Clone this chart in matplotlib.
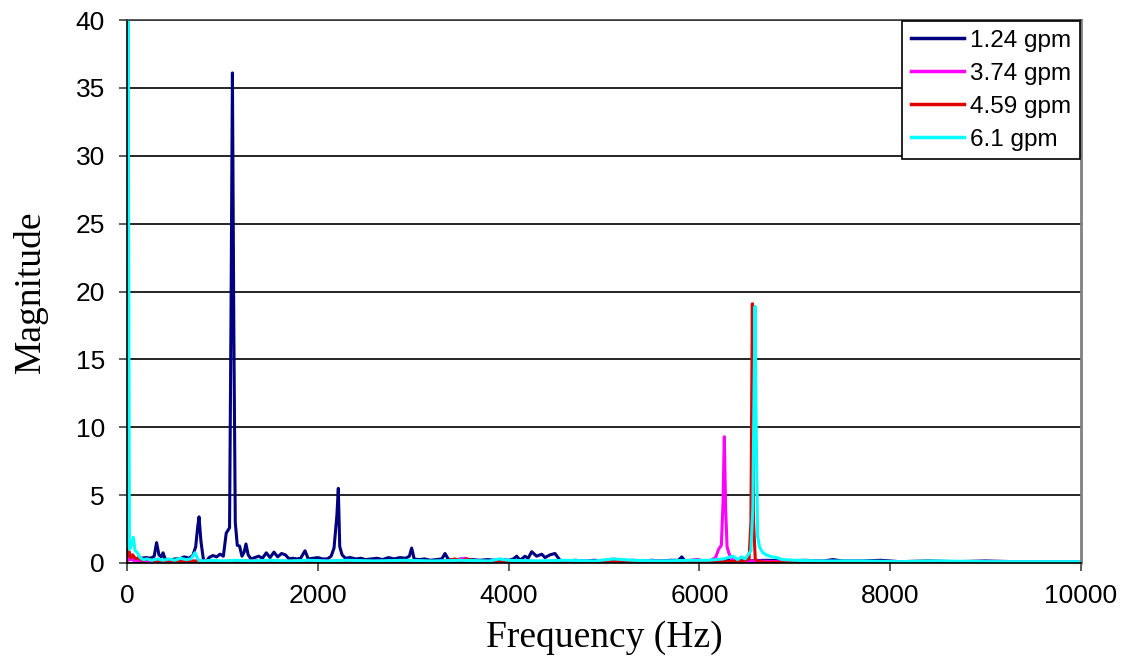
# FFT magnitude spectra for four flow rates

import matplotlib
matplotlib.use("Agg")
import matplotlib.pyplot as plt

# DATA

labels = ["1.24 gpm", "3.74 gpm", "4.59 gpm", "6.1 gpm"]
colors = ["#000080", "#FF00FF", "#E00000", "#00FFFF"]

f124 = [0, 20, 50, 100, 150, 200, 250, 285, 310, 335, 360, 378, 400, 450, 500, 550, 600, 650, 690, 720,
        740, 755, 775, 800, 825, 860, 900, 940, 975, 1010, 1040, 1075, 1090, 1105, 1120, 1135, 1156, 1180,
        1205, 1228, 1247, 1270, 1300, 1340, 1380, 1420, 1460, 1500, 1540, 1580, 1620, 1660, 1700, 1740,
        1780, 1820, 1866, 1900, 1950, 2000, 2050, 2100, 2140, 2170, 2200, 2215, 2230, 2255, 2290, 2340,
        2400, 2450, 2500, 2560, 2620, 2680, 2740, 2800, 2860, 2920, 2960, 2984, 3010, 3060, 3120, 3180,
        3240, 3300, 3333, 3370, 3430, 3500, 3560, 3620, 3700, 3780, 3860, 3940, 4000, 4050, 4085, 4120,
        4172, 4205, 4242, 4294, 4347, 4382, 4434, 4486, 4539, 4600, 4700, 4800, 4900, 5000, 5100, 5200,
        5300, 5400, 5500, 5600, 5700, 5780, 5815, 5850, 5950, 6100, 6300, 6500, 6700, 6900, 7100, 7300,
        7400, 7500, 7700, 7900, 8100, 8400, 8700, 9000, 9300, 9600, 10000]
m124 = [0.3, 0.3, 0.25, 0.3, 0.35, 0.4, 0.35, 0.5, 1.5, 0.6, 0.45, 0.75, 0.3, 0.2, 0.3, 0.3, 0.45, 0.35, 0.55, 1.2,
        2.6, 3.4, 1.6, 0.3, 0.05, 0.4, 0.55, 0.45, 0.65, 0.5, 2.2, 2.6, 18.0, 36.1, 17.0, 3.0, 1.3, 1.25,
        0.5, 0.8, 1.4, 0.6, 0.3, 0.4, 0.5, 0.35, 0.75, 0.4, 0.8, 0.45, 0.7, 0.6, 0.3, 0.35,
        0.3, 0.35, 0.9, 0.3, 0.35, 0.4, 0.3, 0.3, 0.5, 1.1, 3.5, 5.5, 1.2, 0.6, 0.35, 0.4,
        0.3, 0.35, 0.25, 0.3, 0.35, 0.25, 0.4, 0.3, 0.4, 0.35, 0.5, 1.1, 0.3, 0.25, 0.3, 0.2,
        0.25, 0.3, 0.7, 0.25, 0.2, 0.3, 0.2, 0.25, 0.2, 0.25, 0.2, 0.25, 0.2, 0.3, 0.5, 0.2,
        0.5, 0.35, 0.83, 0.5, 0.65, 0.4, 0.6, 0.7, 0.2, 0.15, 0.2, 0.15, 0.2, 0.15, 0.2, 0.15,
        0.2, 0.15, 0.2, 0.15, 0.2, 0.2, 0.45, 0.15, 0.2, 0.15, 0.2, 0.15, 0.2, 0.15, 0.2, 0.15,
        0.25, 0.15, 0.15, 0.2, 0.1, 0.15, 0.1, 0.15, 0.1, 0.1, 0.1]

f374 = [0, 15, 40, 80, 150, 250, 400, 600, 800, 1000, 1300, 1600, 2000, 2400, 2800, 3200, 3450, 3543, 3620, 3800,
        4100, 4400, 4700, 5000, 5100, 5200, 5500, 5800, 5985, 6050, 6120, 6170, 6200, 6230, 6248, 6261, 6275,
        6290, 6310, 6340, 6400, 6600, 6800, 7100, 7500, 8000, 8500, 9000, 9500, 10000]
m374 = [0.5, 0.2, 0.3, 0.15, 0.2, 0.1, 0.15, 0.1, 0.15, 0.1, 0.15, 0.1, 0.15, 0.1, 0.15, 0.1, 0.2, 0.35, 0.15, 0.1,
        0.15, 0.1, 0.15, 0.1, 0.3, 0.1, 0.15, 0.1, 0.27, 0.1, 0.2, 0.4, 1.0, 1.3, 4.5, 9.3, 4.0,
        1.2, 0.7, 0.25, 0.1, 0.15, 0.1, 0.15, 0.1, 0.1, 0.1, 0.1, 0.1, 0.1]

f459 = [0, 10, 25, 40, 60, 90, 120, 160, 220, 300, 400, 550, 700, 900, 1200, 1500, 1800, 2100, 2400, 2700,
        3000, 3300, 3440, 3500, 3560, 3620, 3700, 3900, 4200, 4600, 5000, 5400, 5800, 6100, 6300, 6450, 6520,
        6540, 6555, 6568, 6585, 6620, 6700, 6800, 7000, 7400, 8000, 8600, 9200, 10000]
m459 = [1.0, 0.5, 0.8, 0.4, 0.6, 0.3, 0.4, 0.2, 0.3, 0.15, 0.2, 0.1, 0.15, 0.1, 0.15, 0.1, 0.15, 0.1, 0.15, 0.1,
        0.15, 0.1, 0.3, 0.15, 0.3, 0.2, 0.1, 0.15, 0.1, 0.1, 0.1, 0.1, 0.1, 0.1, 0.1, 0.15, 0.3,
        3.0, 19.1, 3.0, 0.3, 0.1, 0.05, 0.05, 0.05, 0.05, 0.05, 0.05, 0.05, 0.05]

f61 = [0, 10, 25, 45, 66, 85, 105, 136, 170, 210, 260, 320, 380, 440, 500, 560, 620, 670, 713, 750,
       800, 900, 1000, 1150, 1300, 1500, 1700, 1900, 2100, 2300, 2600, 2900, 3200, 3500, 3800, 3900, 4000,
       4300, 4600, 4900, 5100, 5300, 5600, 5900, 6100, 6250, 6355, 6400, 6440, 6480, 6510, 6540, 6560,
       6572, 6583, 6595, 6610, 6630, 6660, 6700, 6760, 6810, 6870, 7000, 7300, 7700, 8100, 8500, 9000,
       9500, 10000]
m61 = [3.0, 45.0, 1.0, 1.3, 1.9, 0.9, 0.8, 0.4, 0.25, 0.3, 0.2, 0.3, 0.2, 0.3, 0.2, 0.35, 0.25, 0.3, 0.76, 0.2,
       0.15, 0.2, 0.15, 0.2, 0.15, 0.2, 0.15, 0.2, 0.15, 0.2, 0.15, 0.2, 0.15, 0.2, 0.15, 0.3, 0.2,
       0.15, 0.2, 0.15, 0.3, 0.2, 0.15, 0.2, 0.2, 0.3, 0.5, 0.25, 0.45, 0.3, 0.6, 0.9, 4.0,
       12.0, 18.9, 10.0, 2.0, 1.2, 0.8, 0.6, 0.45, 0.4, 0.25, 0.2, 0.15, 0.15, 0.1, 0.15, 0.1,
       0.1, 0.1]

x_ticks = [0, 2000, 4000, 6000, 8000, 10000]
y_ticks = [0, 5, 10, 15, 20, 25, 30, 35, 40]

# PLOT

fig = plt.figure(figsize=(11.25, 6.62), dpi=100)
ax = fig.add_axes([127 / 1125, 99 / 662, 954 / 1125, 543 / 662])

for f, m, lab, c in zip([f124, f374, f459, f61], [m124, m374, m459, m61], labels, colors):
    ax.plot(f, m, color=c, lw=2.2, label=lab, solid_joinstyle="round")

ax.set_xlim(0, 10000)
ax.set_ylim(0, 40)
ax.set_xticks(x_ticks)
ax.set_yticks(y_ticks)
ax.yaxis.grid(True, color="black", lw=1.2)
ax.set_axisbelow(True)

tick_font = {"family": "Liberation Sans", "size": 19}
ax.set_xticklabels([str(t) for t in x_ticks], fontdict=tick_font)
ax.set_yticklabels([str(t) for t in y_ticks], fontdict=tick_font)
ax.tick_params(axis="both", direction="out", length=6, width=1.2, color="#404040")
ax.tick_params(axis="y", pad=10)
ax.tick_params(axis="x", pad=9)

for side in ["left", "bottom"]:
    ax.spines[side].set_color("black")
    ax.spines[side].set_linewidth(1.2)
ax.spines["right"].set_color("#808080")
ax.spines["right"].set_linewidth(2)
ax.spines["top"].set_color("#404040")
ax.spines["top"].set_linewidth(1.2)

ax.set_xlabel("Frequency (Hz)", family="Liberation Serif", size=27, labelpad=9)
ax.set_ylabel("Magnitude", family="Liberation Serif", size=27, labelpad=20)

leg = ax.legend(loc="upper right", borderaxespad=0.05, fancybox=False, framealpha=1,
                edgecolor="black", prop={"family": "Liberation Sans", "size": 17.5},
                handlelength=2.2, handletextpad=0.25, labelspacing=0.45, borderpad=0.35)
leg.get_frame().set_linewidth(1.2)
for line in leg.get_lines():
    line.set_linewidth(2.5)

fig.savefig("out.png", dpi=100)
